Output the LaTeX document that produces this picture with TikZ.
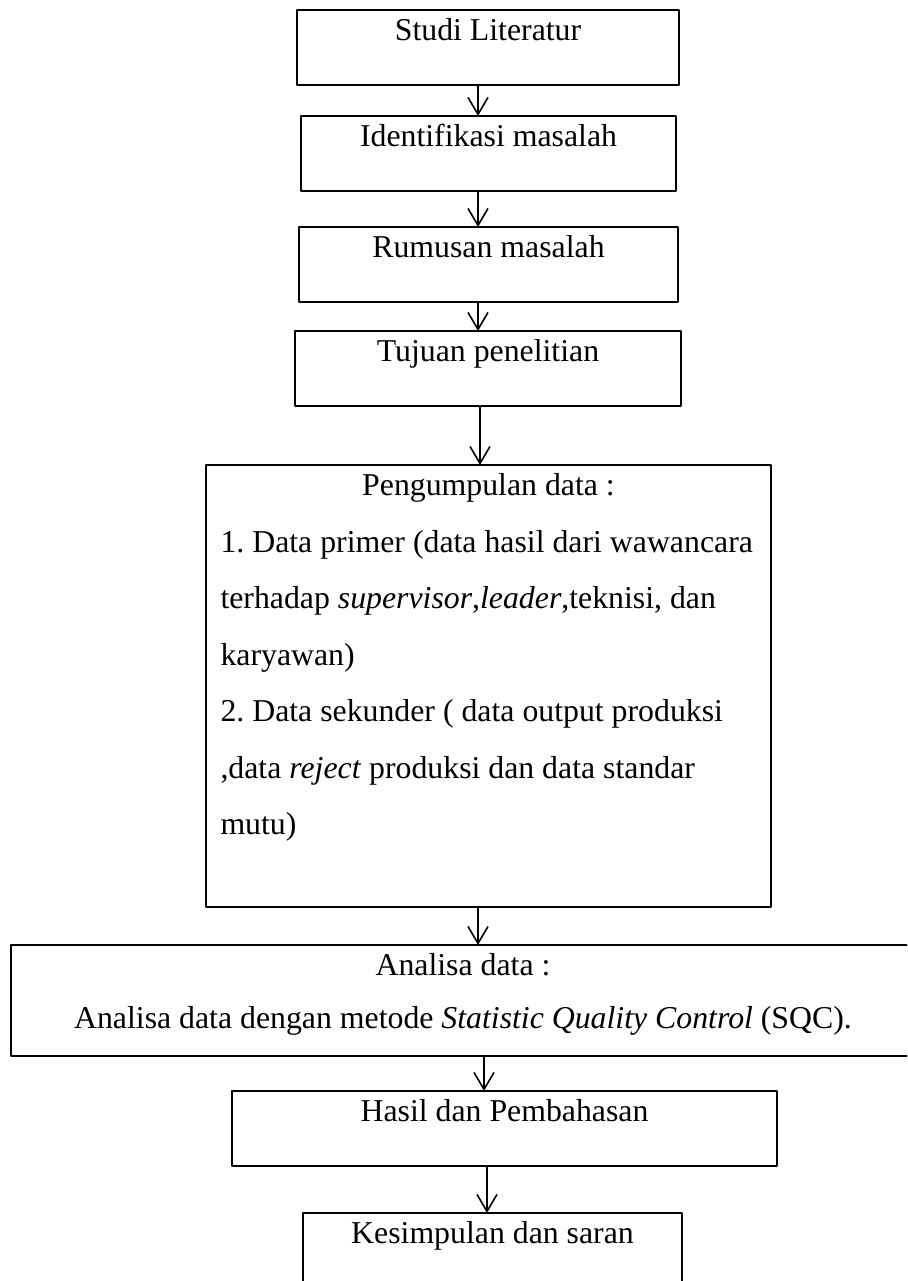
\documentclass[tikz,border=0pt]{standalone}
\usepackage{fontspec}
\setmainfont{Liberation Serif}
\usepackage{tikz}
\usetikzlibrary{arrows.meta,positioning}
\frenchspacing
\tikzset{
    every picture/.style={line cap=round,line join=round},
    stepbox/.style={draw=black,line width=1pt,inner sep=0pt,outer sep=0pt,
      text height=15pt,text depth=22.5pt,align=center,
      font=\fontsize{15.9pt}{28.25pt}\selectfont},
    flowarrow/.style={-{Straight Barb[length=8.5pt,width=10pt]},draw=black,
      line width=0.8pt}
}

\begin{document}
\begin{tikzpicture}[x=0.5pt,y=-0.5pt]
  \path[use as bounding box] (0,0) rectangle (907,1281);
  \clip (0,0) rectangle (907,1281);
  \node[stepbox,minimum width=191pt,anchor=north] (studi) at (488,10) {Studi Literatur};
  \node[stepbox,minimum width=187.5pt,below=15.5pt of studi,xshift=0.25pt] (identifikasi) {Identifikasi masalah};
  \node[stepbox,minimum width=189.5pt,below=18pt of identifikasi] (rumusan) {Rumusan masalah};
  \node[stepbox,minimum width=193pt,below=14.5pt of rumusan,xshift=-0.25pt] (tujuan) {Tujuan penelitian};
  \node[stepbox,text width=268pt,inner xsep=7.25pt,align=flush left,text height=15.25pt,
    text depth=205.75pt,below=29.5pt of tujuan,xshift=0.25pt] (pengumpulan)
    {\makebox[\linewidth][c]{Pengumpulan data :}\\
     1. Data primer (data hasil dari wawancara\\
     terhadap \textit{supervisor},\textit{leader},teknisi, dan\\
     karyawan)\\
     2. Data sekunder ( data output produksi\\
     ,data \textit{reject} produksi dan data standar\\
     mutu)};
  \node[stepbox,minimum width=452pt,text height=41.75pt,text depth=13.75pt,
    font=\fontsize{15.9pt}{26.5pt}\selectfont,
    below=19pt of pengumpulan,xshift=-12.75pt] (analisa)
    {Analisa data :\\
     Analisa data dengan metode \textit{Statistic Quality Control} (SQC).};
  \node[stepbox,minimum width=272.5pt,below=17.5pt of analisa,xshift=20.75pt] (hasil) {Hasil dan Pembahasan};
  \node[stepbox,minimum width=189.5pt,text depth=35pt,below=23.5pt of hasil,xshift=-6pt] (kesimpulan) {Kesimpulan dan saran};
  % arrows between the steps
  \foreach \a/\b/\s in {studi/identifikasi/-5pt,identifikasi/rumusan/-5.25pt,
    rumusan/tujuan/-5.25pt,tujuan/pengumpulan/-4pt,pengumpulan/analisa/-5.25pt,
    analisa/hasil/10.5pt,hasil/kesimpulan/-8.75pt} {
    \draw[flowarrow] ([xshift=\s]\a.south) -- ([xshift=\s]\a.south |- \b.north);
  }
\end{tikzpicture}
\end{document}
